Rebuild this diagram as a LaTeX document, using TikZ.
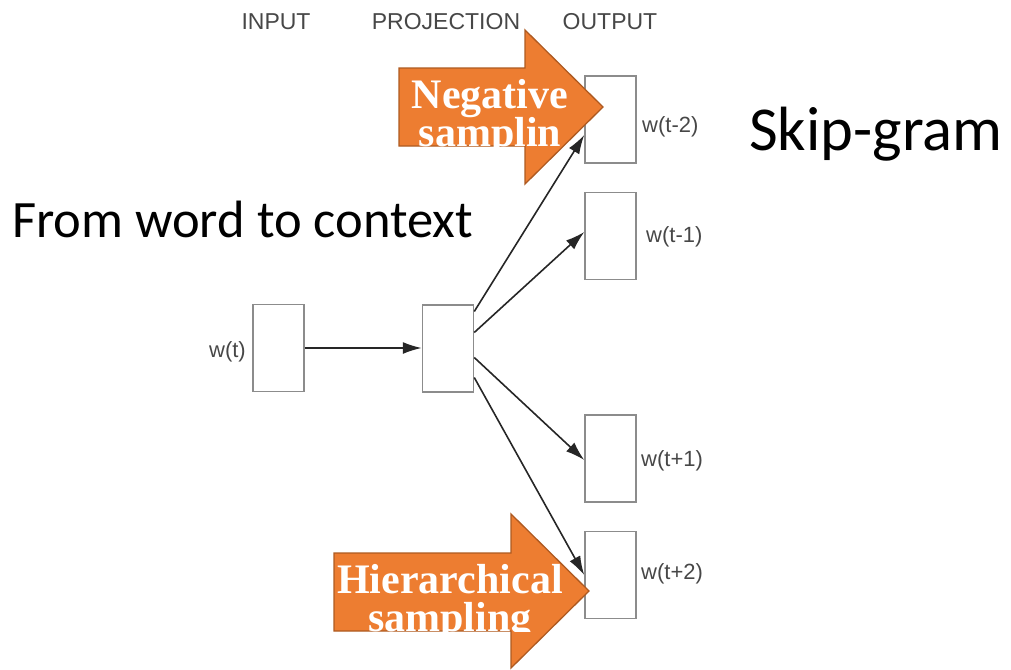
\documentclass[tikz,border=0pt]{standalone}
\usepackage{fontspec}
\setmainfont{Liberation Sans}
\newfontfamily\calibrifont{Carlito}
\newfontfamily\timesbold{Liberation Serif}[BoldFont={Liberation Serif Bold}]
\usetikzlibrary{arrows.meta}
\definecolor{boxgray}{HTML}{8C8C8C}
\definecolor{labgray}{HTML}{474747}
\definecolor{callout}{HTML}{ED7D31}
\definecolor{calloutedge}{HTML}{AE5A21}
\tikzset{
  layer/.style={draw=boxgray, line width=1.5pt, fill=white, minimum width=51pt, minimum height=87pt, inner sep=0pt},
  header/.style={text=labgray, font=\fontsize{23}{23}\selectfont, anchor=base, inner sep=0pt},
  wlabel/.style={text=labgray, font=\fontsize{22}{22}\selectfont, inner sep=0pt},
  link/.style={line width=1.6pt, black!85, -{Latex[length=19pt,width=12pt]}},
  title/.style={font=\calibrifont\fontsize{52.5}{52.5}\selectfont, anchor=base west, inner sep=0pt},
  bigtitle/.style={font=\calibrifont\fontsize{62.5}{62.5}\selectfont, anchor=base west, inner sep=0pt},
  callarrow/.style={fill=callout, draw=calloutedge, line width=1.3pt, line join=miter},
  calltext/.style={text=white, font=\timesbold\bfseries\fontsize{42}{42}\selectfont, anchor=base, inner sep=0pt}
}
\begin{document}
\begin{tikzpicture}[x=1pt, y=-1pt]
  \useasboundingbox (0,0) rectangle (1011,669);

  % column headings
  \node[header] (hin) at (276,30) {INPUT};
  \node[header] (hproj) at (446,30) {PROJECTION};
  \node[header] (hout) at (610,30) {OUTPUT};

  % layers
  \node[layer] (inp) at (278.5,348) {};
  \node[layer] (proj) at (448,348.5) {};
  \node[layer] (om2) at (610.5,119.5) {};
  \node[layer] (om1) at (610.5,236) {};
  \node[layer] (op1) at (610.5,458.5) {};
  \node[layer] (op2) at (610.5,575) {};

  % word labels
  \node[wlabel, anchor=east] (lin) at (246,352) {w(t)};
  \node[wlabel, anchor=west] (lm2) at (642,127) {w(t-2)};
  \node[wlabel, anchor=west] (lm1) at (646,237) {w(t-1)};
  \node[wlabel, anchor=west] (lp1) at (641,461) {w(t+1)};
  \node[wlabel, anchor=west] (lp2) at (641,574) {w(t+2)};

  % connections
  \draw[link] (inp.east) -- (proj.west |- inp.east);
  \draw[link] ([yshift=37pt]proj.east) -- ([yshift=-15.5pt]om2.west);
  \draw[link] ([yshift=16pt]proj.east) -- ([yshift=4pt]om1.west);
  \draw[link] ([yshift=-9pt]proj.east) -- ([yshift=-1.5pt]op1.west);
  \draw[link] ([yshift=-29pt]proj.east) -- (op2.west);

  % titles
  \node[title] (t1) at (12,237) {From word to context};
  \node[bigtitle] (t2) at (749,150) {Skip-gram};

  % upper callout arrow
  \draw[callarrow] (399,68) -- (525,68) -- (525,30) -- (603,107) -- (525,184) -- (525,146) -- (399,146) -- cycle;
  \begin{scope}
    \clip (380,40) rectangle (640,146);
    \node[calltext] (neg1) at (490,108) {Negative};
    \node[calltext] (neg2) at (490,146) {samplin};
  \end{scope}

  % lower callout arrow
  \draw[callarrow] (334,553) -- (511,553) -- (511,514) -- (589,591) -- (511,668) -- (511,631) -- (334,631) -- cycle;
  \begin{scope}
    \clip (320,520) rectangle (640,631);
    \node[calltext] (hier1) at (450,593) {Hierarchical};
    \node[calltext] (hier2) at (450,631) {sampling};
  \end{scope}
\end{tikzpicture}
\end{document}
